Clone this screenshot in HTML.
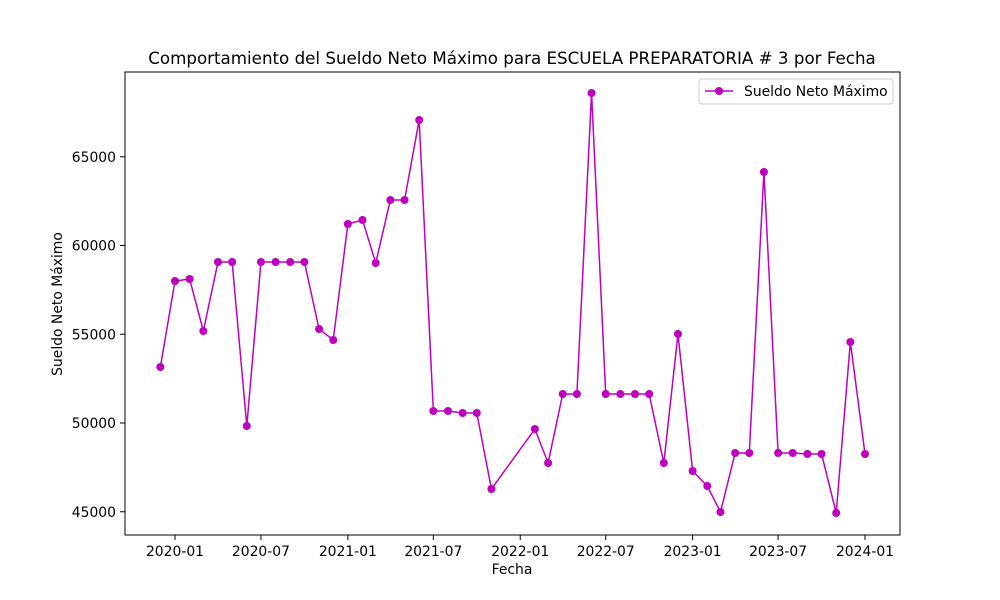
<!DOCTYPE html>
<html><head><meta charset="utf-8">
<style>
body{margin:0;background:#fff;}
svg{display:block;font-family:"DejaVu Sans","Liberation Sans",sans-serif;}
</style></head>
<body>
<svg id="chart" width="1000" height="600">
<rect width="1000" height="600" fill="#fff"/>
<text x="512" y="64" text-anchor="middle" font-size="16.7">Comportamiento del Sueldo Neto Máximo para ESCUELA PREPARATORIA # 3 por Fecha</text>
<g id="axes"></g>
<g id="series"></g>
<rect x="125" y="72" width="775" height="463" fill="none" stroke="#000" stroke-width="1"/>
<text x="512" y="574" text-anchor="middle" font-size="13.9">Fecha</text>
<text transform="translate(62,304) rotate(-90)" text-anchor="middle" font-size="13.9">Sueldo Neto Máximo</text>
<g>
<rect x="699" y="79" width="194" height="25" fill="#fff" stroke="#ccc" rx="3"/>
<line x1="705" y1="91" x2="733" y2="91" stroke="#bf00bf" stroke-width="1.5"/>
<circle cx="719" cy="91" r="4" fill="#bf00bf"/>
<text x="744" y="96" font-size="13.9">Sueldo Neto Máximo</text>
</g>
</svg>
<script>
const dates=["2019-12","2020-01","2020-02","2020-03","2020-04","2020-05","2020-06","2020-07","2020-08","2020-09","2020-10","2020-11","2020-12","2021-01","2021-02","2021-03","2021-04","2021-05","2021-06","2021-07","2021-08","2021-09","2021-10","2021-11","2022-02","2022-03","2022-04","2022-05","2022-06","2022-07","2022-08","2022-09","2022-10","2022-11","2022-12","2023-01","2023-02","2023-03","2023-04","2023-05","2023-06","2023-07","2023-08","2023-09","2023-10","2023-11","2023-12","2024-01"];
const values=[53155,58000,58113,55183,59070,59070,49831,59070,59070,59070,59070,55296,54676,61212,61437,59014,62563,62563,67070,50676,50676,50563,50563,46282,49662,47746,51634,51634,68592,51634,51634,51634,51634,47746,55014,47296,46451,44986,48310,48310,64141,48310,48310,48254,48254,44930,54563,48254];
const xTicks=["2020-01","2020-07","2021-01","2021-07","2022-01","2022-07","2023-01","2023-07","2024-01"];
const yTicks=[45000,50000,55000,60000,65000];
const NS="http://www.w3.org/2000/svg";
function toDay(s){const[p,q]=s.split("-").map(Number);return Date.UTC(p,q-1,1)/864e5;}
const d0=toDay("2020-01"),d1=toDay("2024-01");
function xs(s){return 175+(toDay(s)-d0)/(d1-d0)*690;}
function ys(v){return 423-(v-50000)*0.01775;}
const axes=document.getElementById("axes"),ser=document.getElementById("series");
function mk(t,a,p){const e=document.createElementNS(NS,t);for(const k in a)e.setAttribute(k,a[k]);p.appendChild(e);return e;}
xTicks.forEach(t=>{const x=xs(t);
 const l=mk("line",{x1:x,x2:x,y1:535,y2:540,stroke:"#000"},axes);
 
 
 const tx=mk("text",{x:x,y:556,"text-anchor":"middle","font-size":13.9},axes);tx.textContent=t;
 
 
});
yTicks.forEach(t=>{const y=ys(t);
 const l=mk("line",{x1:120,x2:125,y1:y,y2:y,stroke:"#000"},axes);
 
 
 const tx=mk("text",{x:116,y:y+5,"text-anchor":"end","font-size":13.9},axes);tx.textContent=t;
 
 
});
const pts=dates.map((d,i)=>xs(d)+","+ys(values[i])).join(" ");
const pl=mk("polyline",{points:pts,fill:"none",stroke:"#bf00bf","stroke-width":1.5},ser);


dates.forEach((d,i)=>{const c=mk("circle",{cx:xs(d),cy:ys(values[i]),r:4,fill:"#bf00bf"},ser);
 
 
});
</script>
</body></html>
